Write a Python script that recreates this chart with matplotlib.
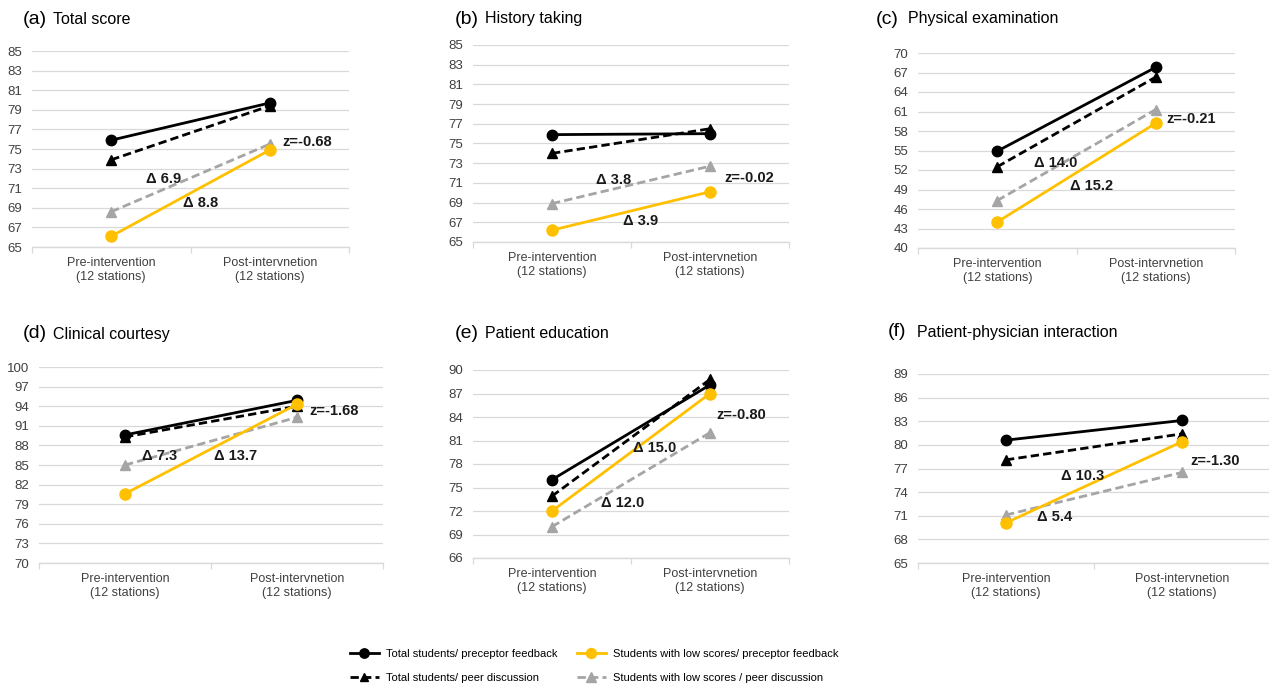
import numpy as np
import matplotlib
matplotlib.use('Agg')
import matplotlib.pyplot as plt
from matplotlib.ticker import FixedLocator

plt.rcParams['font.family'] = ['Liberation Sans', 'DejaVu Sans']

# %% Data
categories = ['Pre-intervention\n(12 stations)', 'Post-intervnetion\n(12 stations)']
panel_labels = ['(a)', '(b)', '(c)', '(d)', '(e)', '(f)']
panel_titles = ['Total score', 'History taking', 'Physical examination',
                'Clinical courtesy', 'Patient education', 'Patient-physician interaction']

series_names = ['Total students/ preceptor feedback',
                'Total students/ peer discussion',
                'Students with low scores/ preceptor feedback',
                'Students with low scores / peer discussion']

total_preceptor = [[75.9, 79.7], [75.9, 76.0], [54.9, 67.8], [89.6, 94.9], [76.0, 88.1], [80.6, 83.1]]
total_peer = [[73.9, 79.4], [74.0, 76.5], [52.5, 66.3], [89.3, 94.0], [73.9, 88.8], [78.1, 81.4]]
low_preceptor = [[66.1, 74.9], [66.2, 70.1], [44.0, 59.2], [80.6, 94.3], [72.0, 87.0], [70.1, 80.4]]
low_peer = [[68.6, 75.5], [68.9, 72.7], [47.3, 61.3], [85.0, 92.3], [70.0, 82.0], [71.1, 76.5]]

y_min = [65, 65, 40, 70, 66, 65]
y_max = [85, 85, 70, 100, 90, 89]
y_step = [2, 2, 3, 3, 3, 3]

delta_peer = ['Δ 6.9', 'Δ 3.8', 'Δ 14.0', 'Δ 7.3', 'Δ 12.0', 'Δ 5.4']
delta_preceptor = ['Δ 8.8', 'Δ 3.9', 'Δ 15.2', 'Δ 13.7', 'Δ 15.0', 'Δ 10.3']
z_labels = ['z=-0.68', 'z=-0.02', 'z=-0.21', 'z=-1.68', 'z=-0.80', 'z=-1.30']

# %% Layout (pixels: left, top, right, bottom)
W, H = 1269, 688
boxes = [(32, 51, 349, 247), (473, 45, 789, 242), (918, 53, 1235, 248),
         (39, 367, 383, 563), (473, 370, 789, 558), (918, 374, 1270, 563)]
label_xy = [(23, 19), (455, 19), (876, 19), (23, 334), (455, 334), (888, 332)]
title_x = [53, 485, 908, 53, 485, 917]
# annotation positions in data coords: (delta peer, delta preceptor, z)
ann_pos = [
    [(0.22, 71.9), (0.45, 69.5), (1.08, 75.7)],
    [(0.28, 71.3), (0.45, 67.1), (1.09, 71.5)],
    [(0.23, 53.1), (0.46, 49.5), (1.07, 59.85)],
    [(0.10, 86.4), (0.52, 86.4), (1.07, 93.2)],
    [(0.31, 73.0), (0.51, 80.1), (1.04, 84.25)],
    [(0.175, 70.8), (0.31, 76.1), (1.05, 77.9)],
]

YELLOW = '#FFC000'
GRAY = '#A5A5A5'
GRID = '#D9D9D9'

fig = plt.figure(figsize=(W/100, H/100), dpi=100)
x = np.arange(len(categories))
handles = None

for i in range(6):
    l, t, r, b = boxes[i]
    ax = fig.add_axes([l/W, 1 - b/H, (r - l)/W, (b - t)/H])
    ax.set_xlim(-0.5, 1.5)
    ax.set_ylim(y_min[i], y_max[i])
    ax.set_yticks(np.arange(y_min[i], y_max[i] + 0.1, y_step[i]))
    ax.set_xticks(x)
    ax.set_xticklabels(categories, fontsize=9, color='#404040', linespacing=1.25)
    ax.xaxis.set_minor_locator(FixedLocator([-0.5, 0.5, 1.5]))
    ax.tick_params(axis='x', which='major', length=0, pad=7)
    ax.tick_params(axis='x', which='minor', length=4, width=0.9, color=GRID)
    ax.tick_params(axis='y', length=0, pad=7, labelsize=9.5, labelcolor='#404040')
    ax.grid(axis='y', color=GRID, linewidth=0.9)
    ax.set_axisbelow(True)
    for s in ['left', 'right', 'top']:
        ax.spines[s].set_visible(False)
    ax.spines['bottom'].set_color(GRID)
    ax.spines['bottom'].set_linewidth(1.0)

    h1, = ax.plot(x, total_preceptor[i], color='black', lw=2, marker='o', ms=7.5,
                  label=series_names[0])
    h2, = ax.plot(x, total_peer[i], color='black', lw=2, ls=(0, (3, 1.5)), marker='^', ms=7,
                  label=series_names[1])
    h4, = ax.plot(x, low_peer[i], color=GRAY, lw=2, ls=(0, (3, 1.5)), marker='^', ms=7.5,
                  label=series_names[3])
    h3, = ax.plot(x, low_preceptor[i], color=YELLOW, lw=2, marker='o', ms=8,
                  label=series_names[2])
    if handles is None:
        handles = [h1, h2, h3, h4]

    texts = [delta_peer[i], delta_preceptor[i], z_labels[i]]
    for txt, (ax_x, ax_y) in zip(texts, ann_pos[i]):
        ax.text(ax_x, ax_y, txt, fontsize=10.5, fontweight='bold', color='#1a1a1a',
                ha='left', va='center', clip_on=False)

    lx, ly = label_xy[i]
    fig.text(lx/W, 1 - ly/H, panel_labels[i], fontsize=14, ha='left', va='center')
    fig.text(title_x[i]/W, 1 - ly/H, panel_titles[i], fontsize=11.5, ha='left', va='center')

fig.legend(handles, [h.get_label() for h in handles], ncol=2, loc='center',
           bbox_to_anchor=(594/W, 1 - 666/H), frameon=False, fontsize=8,
           handlelength=2.6, handletextpad=0.6, columnspacing=1.8, labelspacing=1.2,
           markerscale=0.9)

plt.savefig('out.png', dpi=100)
